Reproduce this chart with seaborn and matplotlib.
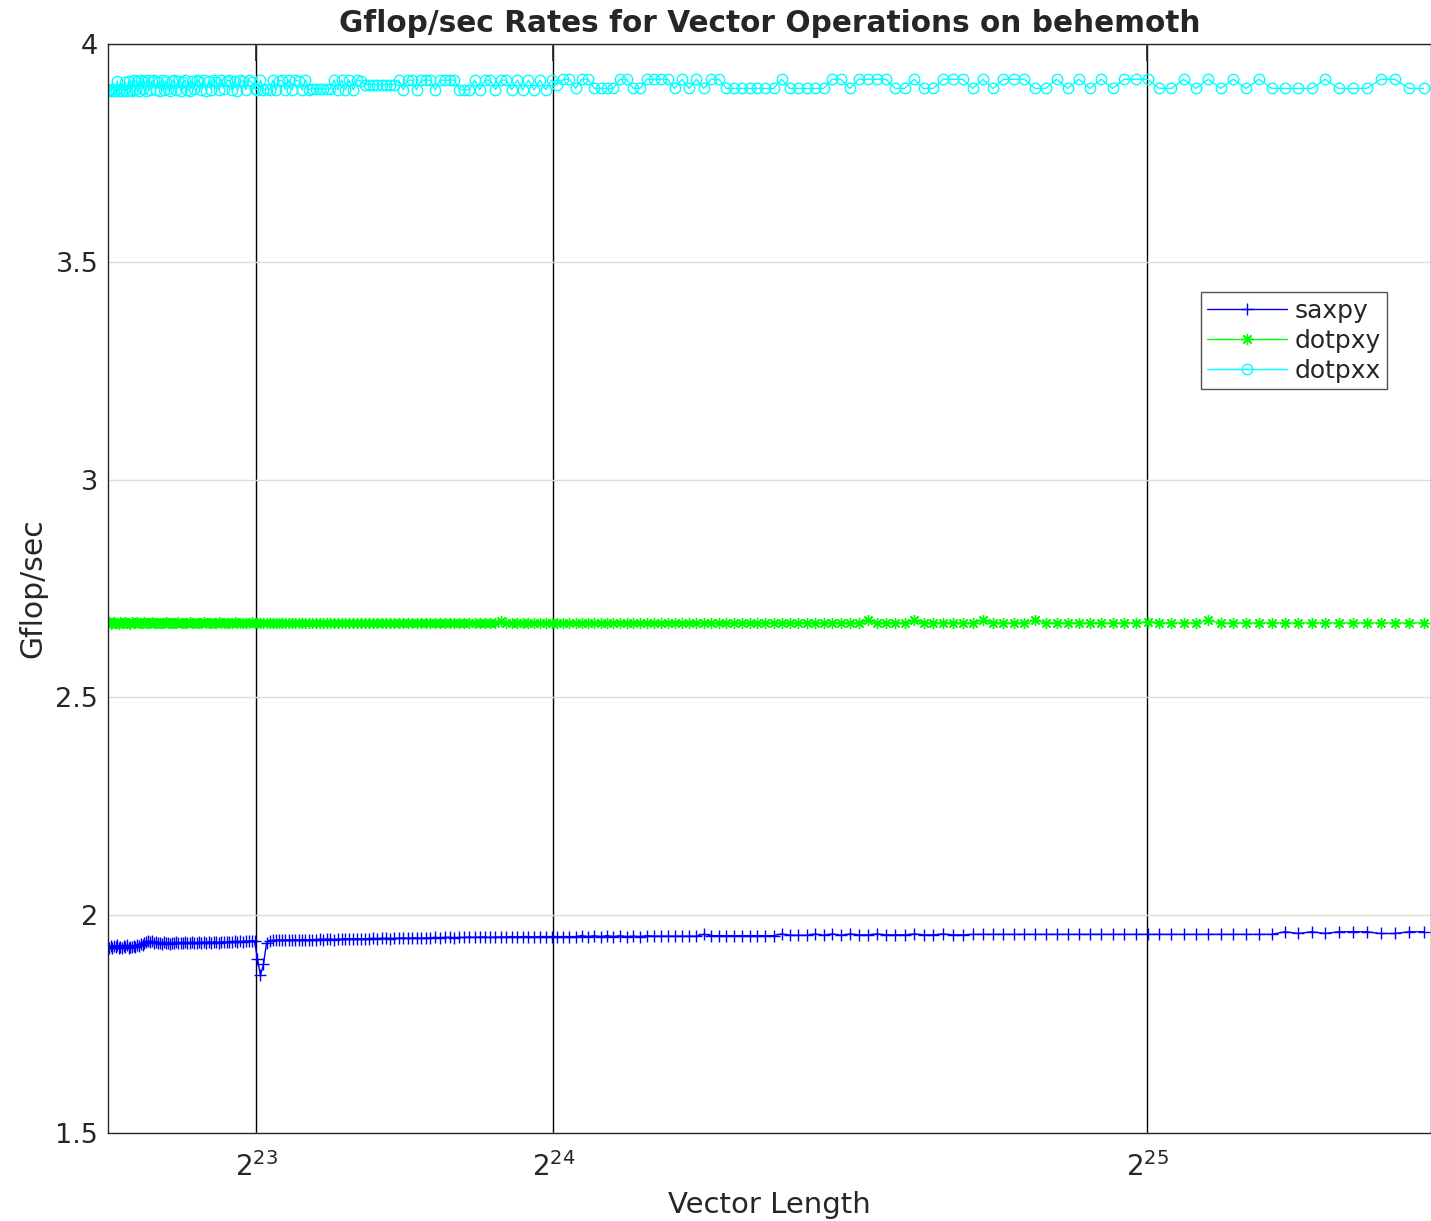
import numpy as np
import pandas as pd
import seaborn as sns
import matplotlib.pyplot as plt
from matplotlib.ticker import MultipleLocator, FuncFormatter, FixedLocator

# vector lengths: start at 2^22, each run 1% longer than the previous one
start_len = 2 ** 22
growth = 1.01
n_points = 231

# Gflop/sec, one value per vector length
saxpy = [
    1.928, 1.925, 1.930, 1.924, 1.929, 1.926, 1.931, 1.925, 1.928, 1.924,
    1.929, 1.926, 1.931, 1.925, 1.928, 1.926, 1.930, 1.927, 1.932, 1.929,
    1.934, 1.931, 1.936, 1.938, 1.941, 1.939, 1.940, 1.937, 1.938, 1.936,
    1.937, 1.935, 1.938, 1.936, 1.937, 1.935, 1.937, 1.936, 1.938, 1.936,
    1.937, 1.936, 1.938, 1.937, 1.936, 1.938, 1.937, 1.936, 1.938, 1.937,
    1.938, 1.937, 1.939, 1.937, 1.938, 1.939, 1.937, 1.938, 1.939, 1.938,
    1.939, 1.938, 1.940, 1.939, 1.940, 1.939, 1.941, 1.940, 1.941, 1.941,
    1.900, 1.862, 1.887, 1.936, 1.941, 1.942, 1.942, 1.943, 1.942, 1.943,
    1.943, 1.943, 1.944, 1.943, 1.944, 1.944, 1.943, 1.944, 1.944, 1.945,
    1.944, 1.945, 1.945, 1.944, 1.945, 1.945, 1.946, 1.945, 1.946, 1.946,
    1.945, 1.946, 1.946, 1.947, 1.946, 1.947, 1.947, 1.946, 1.947, 1.947,
    1.948, 1.947, 1.948, 1.948, 1.947, 1.948, 1.948, 1.949, 1.948, 1.949,
    1.949, 1.948, 1.949, 1.949, 1.950, 1.949, 1.950, 1.950, 1.949, 1.950,
    1.950, 1.950, 1.951, 1.950, 1.951, 1.951, 1.950, 1.951, 1.951, 1.951,
    1.951, 1.951, 1.951, 1.951, 1.953, 1.951, 1.953, 1.951, 1.953, 1.951,
    1.953, 1.951, 1.952, 1.951, 1.953, 1.952, 1.952, 1.952, 1.952, 1.952,
    1.952, 1.952, 1.956, 1.953, 1.953, 1.953, 1.953, 1.953, 1.953, 1.953,
    1.953, 1.953, 1.957, 1.954, 1.954, 1.954, 1.957, 1.954, 1.957, 1.954,
    1.957, 1.955, 1.955, 1.957, 1.955, 1.955, 1.955, 1.957, 1.955, 1.955,
    1.957, 1.955, 1.955, 1.956, 1.956, 1.956, 1.956, 1.956, 1.956, 1.956,
    1.956, 1.956, 1.956, 1.956, 1.956, 1.956, 1.956, 1.956, 1.956, 1.956,
    1.956, 1.956, 1.956, 1.956, 1.956, 1.956, 1.956, 1.956, 1.956, 1.956,
    1.962, 1.958, 1.962, 1.958, 1.962, 1.962, 1.962, 1.958, 1.958, 1.962,
    1.962,
]

dotpxy = [
    2.670, 2.672, 2.669, 2.671, 2.672, 2.670, 2.671, 2.669, 2.672, 2.670,
    2.671, 2.672, 2.670, 2.671, 2.669, 2.672, 2.671, 2.670, 2.672, 2.671,
    2.670, 2.671, 2.672, 2.670, 2.671, 2.670, 2.672, 2.671, 2.670, 2.671,
    2.671, 2.670, 2.671, 2.672, 2.671, 2.670, 2.671, 2.671, 2.670, 2.672,
    2.671, 2.670, 2.671, 2.671, 2.672, 2.670, 2.671, 2.671, 2.670, 2.671,
    2.672, 2.671, 2.670, 2.671, 2.671, 2.670, 2.672, 2.671, 2.671, 2.670,
    2.671, 2.671, 2.672, 2.670, 2.671, 2.671, 2.670, 2.671, 2.672, 2.671,
    2.671, 2.670, 2.671, 2.671, 2.671, 2.670, 2.671, 2.671, 2.671, 2.670,
    2.671, 2.671, 2.670, 2.671, 2.671, 2.671, 2.670, 2.671, 2.671, 2.671,
    2.671, 2.670, 2.671, 2.671, 2.671, 2.671, 2.670, 2.671, 2.671, 2.671,
    2.671, 2.671, 2.670, 2.671, 2.671, 2.671, 2.671, 2.671, 2.670, 2.671,
    2.671, 2.671, 2.671, 2.671, 2.671, 2.670, 2.671, 2.671, 2.671, 2.671,
    2.671, 2.671, 2.671, 2.671, 2.671, 2.671, 2.671, 2.671, 2.671, 2.671,
    2.676, 2.671, 2.671, 2.671, 2.671, 2.671, 2.671, 2.671, 2.671, 2.671,
    2.671, 2.671, 2.671, 2.671, 2.671, 2.671, 2.671, 2.671, 2.671, 2.671,
    2.671, 2.671, 2.671, 2.671, 2.671, 2.671, 2.671, 2.671, 2.671, 2.671,
    2.671, 2.671, 2.671, 2.671, 2.671, 2.671, 2.671, 2.671, 2.671, 2.671,
    2.671, 2.671, 2.671, 2.671, 2.671, 2.671, 2.671, 2.671, 2.671, 2.671,
    2.671, 2.671, 2.677, 2.671, 2.671, 2.671, 2.671, 2.677, 2.671, 2.671,
    2.671, 2.671, 2.671, 2.671, 2.677, 2.671, 2.671, 2.671, 2.671, 2.677,
    2.671, 2.671, 2.671, 2.671, 2.671, 2.671, 2.671, 2.671, 2.671, 2.674,
    2.671, 2.671, 2.671, 2.671, 2.677, 2.671, 2.671, 2.671, 2.671, 2.671,
    2.671, 2.671, 2.671, 2.671, 2.671, 2.671, 2.671, 2.671, 2.671, 2.671,
    2.671,
]

dotpxx = [
    3.893, 3.895, 3.893, 3.897, 3.893, 3.895, 3.915, 3.893, 3.897, 3.893,
    3.895, 3.913, 3.893, 3.915, 3.895, 3.893, 3.917, 3.895, 3.915, 3.893,
    3.917, 3.897, 3.915, 3.893, 3.917, 3.895, 3.915, 3.917, 3.895, 3.913,
    3.893, 3.917, 3.895, 3.915, 3.897, 3.893, 3.915, 3.917, 3.895, 3.915,
    3.893, 3.913, 3.917, 3.895, 3.893, 3.915, 3.897, 3.917, 3.915, 3.895,
    3.917, 3.893, 3.915, 3.895, 3.917, 3.913, 3.895, 3.917, 3.897, 3.915,
    3.917, 3.895, 3.915, 3.893, 3.917, 3.915, 3.895, 3.917, 3.913, 3.897,
    3.895, 3.917, 3.895, 3.897, 3.895, 3.917, 3.895, 3.915, 3.917, 3.895,
    3.917, 3.895, 3.917, 3.915, 3.895, 3.917, 3.895, 3.897, 3.897, 3.897,
    3.897, 3.897, 3.897, 3.917, 3.895, 3.917, 3.895, 3.917, 3.895, 3.917,
    3.915, 3.907, 3.907, 3.907, 3.907, 3.907, 3.907, 3.907, 3.907, 3.917,
    3.895, 3.917, 3.917, 3.895, 3.917, 3.917, 3.917, 3.895, 3.917, 3.917,
    3.917, 3.917, 3.895, 3.895, 3.895, 3.917, 3.895, 3.917, 3.917, 3.895,
    3.917, 3.917, 3.895, 3.917, 3.895, 3.917, 3.895, 3.917, 3.895, 3.917,
    3.907, 3.919, 3.919, 3.898, 3.919, 3.919, 3.898, 3.898, 3.898, 3.898,
    3.919, 3.919, 3.898, 3.898, 3.919, 3.919, 3.919, 3.919, 3.898, 3.919,
    3.898, 3.919, 3.898, 3.919, 3.919, 3.898, 3.898, 3.898, 3.898, 3.898,
    3.898, 3.898, 3.919, 3.898, 3.898, 3.898, 3.898, 3.898, 3.919, 3.919,
    3.898, 3.919, 3.919, 3.919, 3.919, 3.898, 3.898, 3.919, 3.898, 3.898,
    3.919, 3.919, 3.919, 3.898, 3.919, 3.898, 3.919, 3.919, 3.919, 3.898,
    3.898, 3.919, 3.898, 3.919, 3.898, 3.919, 3.898, 3.919, 3.919, 3.919,
    3.898, 3.898, 3.919, 3.898, 3.919, 3.898, 3.919, 3.898, 3.919, 3.898,
    3.898, 3.898, 3.898, 3.919, 3.898, 3.898, 3.898, 3.919, 3.919, 3.898,
    3.898,
]

ops = ["saxpy", "dotpxy", "dotpxx"]
colors = {"saxpy": "#0000ff", "dotpxy": "#00ff00", "dotpxx": "#00ffff"}
markers = {"saxpy": "+", "dotpxy": (8, 2, 0), "dotpxx": "o"}
msizes = {"saxpy": 9, "dotpxy": 8, "dotpxx": 7.5}

vec_len = start_len * growth ** np.arange(n_points)
df = pd.concat([
    pd.DataFrame({"n": vec_len, "rate": vals, "op": name})
    for name, vals in zip(ops, [saxpy, dotpxy, dotpxx])
], ignore_index=True)

sns.set_style("white")
plt.rcParams["font.family"] = ["DejaVu Sans"]
plt.rcParams["mathtext.fontset"] = "dejavusans"

fig = plt.figure(figsize=(14.31, 12.21), dpi=100)
ax = fig.add_axes([108 / 1431, 1 - 1133 / 1221, 1 - 108 / 1431, (1133 - 44) / 1221])

for name in ops:
    c = colors[name]
    sns.lineplot(data=df[df["op"] == name], x="n", y="rate", ax=ax, color=c,
                 marker=markers[name], ms=msizes[name], mec=c, mfc="none",
                 mew=1.0, lw=1.0, label=name, estimator=None, sort=False)

ax.set_xlim(2 ** 22, 4.955 * 2 ** 23)
ax.set_ylim(1.5, 4)
ax.xaxis.set_major_locator(FixedLocator([2 ** 23, 2 ** 24, 2 ** 25]))
ax.set_xticklabels([r"$2^{23}$", r"$2^{24}$", r"$2^{25}$"])
ax.yaxis.set_major_locator(MultipleLocator(0.5))
ax.yaxis.set_minor_locator(MultipleLocator(0.1))
ax.yaxis.set_major_formatter(FuncFormatter(lambda v, p: f"{v:g}"))

ax.grid(axis="y", which="major", color="#dcdcdc", lw=1.0)
ax.grid(axis="x", which="major", color="black", lw=1.0)
ax.set_axisbelow(True)

ax.tick_params(which="both", direction="in", top=True, right=False,
               colors="#262626")
ax.tick_params(axis="y", labelsize=19.5, pad=7)
ax.tick_params(axis="x", labelsize=20, pad=14)
ax.tick_params(which="major", length=12, width=1.2)
ax.tick_params(which="minor", length=6, width=1.0)
for sp in ax.spines.values():
    sp.set_color("#262626")
    sp.set_linewidth(1.0)

ax.set_title("Gflop/sec Rates for Vector Operations on behemoth",
             fontsize=21.3, fontweight="bold", pad=9)
ax.set_xlabel("Vector Length", fontsize=21, color="#262626", labelpad=6)
ax.set_ylabel("Gflop/sec", fontsize=21.5, color="#262626", labelpad=6)

leg = ax.legend(loc="upper right", bbox_to_anchor=(0.967, 0.772), fontsize=18,
                frameon=True, fancybox=False, edgecolor="#262626",
                handlelength=3.2, handletextpad=0.3, labelspacing=0.25,
                borderpad=0.25, borderaxespad=0, numpoints=1)
leg.get_frame().set_linewidth(1.0)

fig.savefig("out.png", dpi=100)
